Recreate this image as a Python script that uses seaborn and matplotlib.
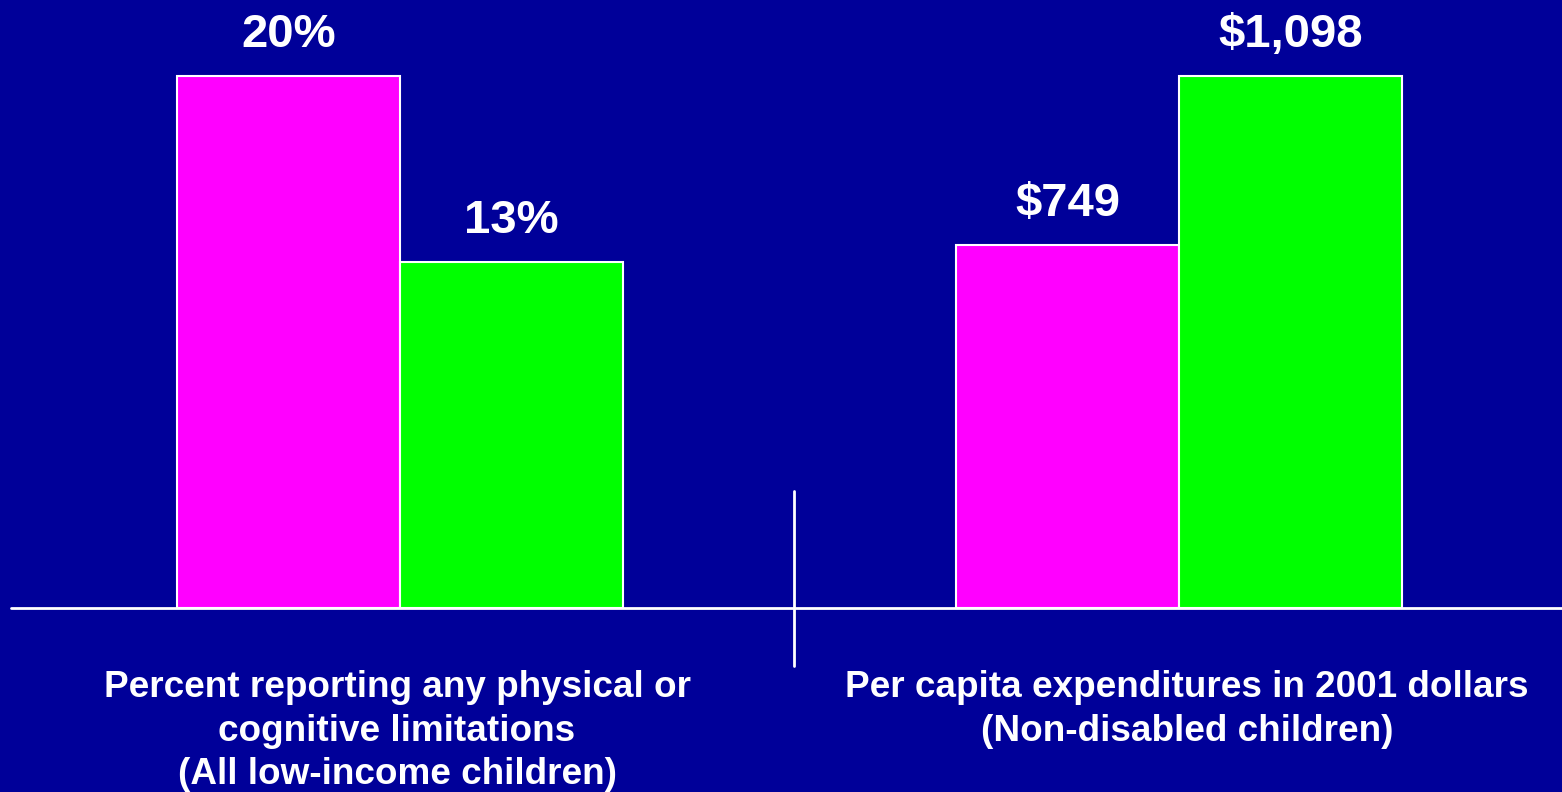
import matplotlib
matplotlib.use("Agg")
import matplotlib.pyplot as plt
from matplotlib.lines import Line2D
import seaborn as sns
import pandas as pd

# Chart data
groups = ["A", "B"]
pct_values = [20, 13]
pct_labels = ["20%", "13%"]
cost_values = [749, 1098]
cost_labels = ["$749", "$1,098"]
panel_titles = [
    "Percent reporting any physical or\ncognitive limitations\n(All low-income children)",
    "Per capita expenditures in 2001 dollars\n(Non-disabled children)",
]

BG = "#000099"
PALETTE = ["#FF00FF", "#00FF00"]

sns.set_theme(style="white")
plt.rcParams["font.family"] = ["Liberation Sans", "DejaVu Sans"]
plt.rcParams["font.weight"] = "bold"

W, H = 1562, 792
fig = plt.figure(figsize=(W / 100, H / 100), dpi=100, facecolor=BG)

baseline_px = 608      # pixel row of the shared baseline
top_px = 76            # pixel row reached by the tallest bar in each panel
divider_px = 794
unit_px = 557.5        # pixels per categorical x unit (bar pair spans 0.8 units)


def panel(left_px, right_px, center_px, values, labels, title, title_x, title_y):
    ax = fig.add_axes([left_px / W, (H - baseline_px) / H,
                       (right_px - left_px) / W, baseline_px / H])
    ax.set_facecolor(BG)
    df = pd.DataFrame({"cat": ["x"] * len(values), "group": groups, "value": values})
    sns.barplot(data=df, x="cat", y="value", hue="group", palette=PALETTE,
                saturation=1, width=0.8, edgecolor="white", linewidth=1.5,
                legend=False, ax=ax)
    ax.set_xlim(-(center_px - left_px) / unit_px, (right_px - center_px) / unit_px)
    ymax = max(values) * baseline_px / (baseline_px - top_px)
    ax.set_ylim(0, ymax)
    for container, lab in zip(ax.containers, labels):
        ax.bar_label(container, labels=[lab], padding=13.5, color="white",
                     fontsize=34, fontweight="bold")
    ax.set_axis_off()
    fig.text(title_x / W, 1 - title_y / H, title, ha="center", va="top",
             color="white", fontsize=26.6, fontweight="bold", linespacing=1.32)
    return ax


panel(0, divider_px, 400, pct_values, pct_labels, panel_titles[0], 397, 670)
panel(divider_px, W, 1179, cost_values, cost_labels, panel_titles[1], 1187, 670)

# Baseline and divider
fig.add_artist(Line2D([11 / W, 1], [1 - baseline_px / H] * 2, color="white", lw=2))
fig.add_artist(Line2D([divider_px / W] * 2, [1 - 491 / H, 1 - 666 / H],
                      color="white", lw=2))

fig.savefig("out.png", dpi=100, facecolor=BG)
